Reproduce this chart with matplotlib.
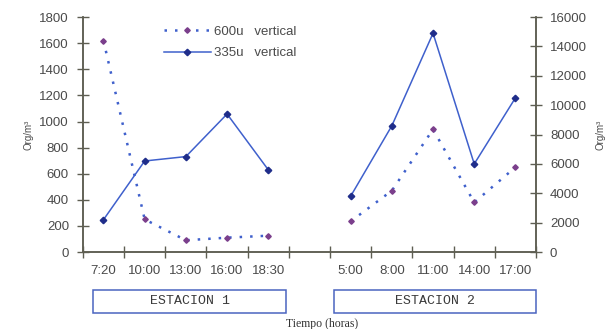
import numpy as np
import matplotlib.pyplot as plt
from matplotlib.patches import Rectangle

# Datos
horas = ["7:20", "10:00", "13:00", "16:00", "18:30", "",
         "5:00", "8:00", "11:00", "14:00", "17:00"]
red_600 = [1620, 250, 90, 110, 125, None, 235, 470, 940, 380, 650]      # eje izq.
red_335 = [2200, 6200, 6500, 9400, 5600, None, 3800, 8600, 14900, 6000, 10500]  # eje der.
estaciones = ["ESTACION 1", "ESTACION 2"]

azul = "#3f60cc"
gris = "#5e5e52"
texto = "#4a4a4a"

plt.rcParams["font.family"] = ["Liberation Sans", "DejaVu Sans"]
plt.rcParams["font.size"] = 9.5

fig = plt.figure(figsize=(6.05, 3.29), dpi=100)
ax = fig.add_axes([0.137, 0.234, 0.749, 0.714])
ax2 = ax.twinx()

x = np.arange(len(horas))
y1 = np.array([np.nan if v is None else v for v in red_600], dtype=float)
y2 = np.array([np.nan if v is None else v for v in red_335], dtype=float)

ax.plot(x, y1, color=azul, lw=1.8, linestyle=(0, (1, 3.2)),
        marker="D", ms=2.8, mfc="#7b3f8c", mec="#7b3f8c", label="600u   vertical")
ax2.plot(x, y2, color=azul, lw=1.1, marker="D", ms=3.3,
         mfc="#1f2d8a", mec="#1f2d8a", label="335u   vertical")

ax.set_xlim(-0.5, len(horas) - 0.5)
ax.set_ylim(0, 1800)
ax2.set_ylim(0, 16000)
ax.set_yticks(np.arange(0, 1801, 200))
ax2.set_yticks(np.arange(0, 16001, 2000))

ax.set_xticks(np.arange(-0.5, len(horas)), minor=False)
ax.set_xticklabels([])
ax.set_xticks(x, minor=True)
ax.set_xticklabels(horas, minor=True)
ax.tick_params(axis="x", which="major", direction="inout", length=8, color=gris, width=1)
ax.tick_params(axis="x", which="minor", length=0, pad=9, labelcolor=texto, labelsize=9.5)
ax.tick_params(axis="y", direction="inout", length=8, color=gris, width=1,
               labelcolor=texto, pad=6)
ax2.tick_params(axis="y", direction="inout", length=8, color=gris, width=1,
                labelcolor=texto, pad=6)

for a in (ax, ax2):
    a.spines["top"].set_visible(False)
    for s in ("left", "right", "bottom"):
        a.spines[s].set_color(gris)
        a.spines[s].set_linewidth(1.1)

ax.set_ylabel("Org/m³", fontsize=7, color=texto, labelpad=4)
ax2.set_ylabel("Org/m³", fontsize=7, color=texto, labelpad=6, rotation=90)

h1, l1 = ax.get_legend_handles_labels()
h2, l2 = ax2.get_legend_handles_labels()
ax.legend(h1 + h2, l1 + l2, loc="upper left", bbox_to_anchor=(0.152, 1.015),
          frameon=False, handlelength=3.6, handletextpad=0.2, labelspacing=0.7,
          labelcolor=texto, fontsize=9.5)

# cajas de estaciones
cajas = [(93, 286), (334, 536)]
for (x0, x1), nombre in zip(cajas, estaciones):
    fx0, fx1 = x0 / 605, x1 / 605
    fig.patches.append(Rectangle((fx0, 0.049), fx1 - fx0, 0.07, transform=fig.transFigure,
                                 fill=False, edgecolor="#4a64c0", lw=1.1))
    fig.text((fx0 + fx1) / 2, 0.084, nombre, ha="center", va="center",
             family="Liberation Mono", fontsize=9.5, color="#3a3a3a")

fig.text(0.532, 0.014, "Tiempo (horas)", ha="center", va="center",
         family="Liberation Serif", fontsize=8.5, color="#333333")

fig.savefig("out.png", dpi=100)
